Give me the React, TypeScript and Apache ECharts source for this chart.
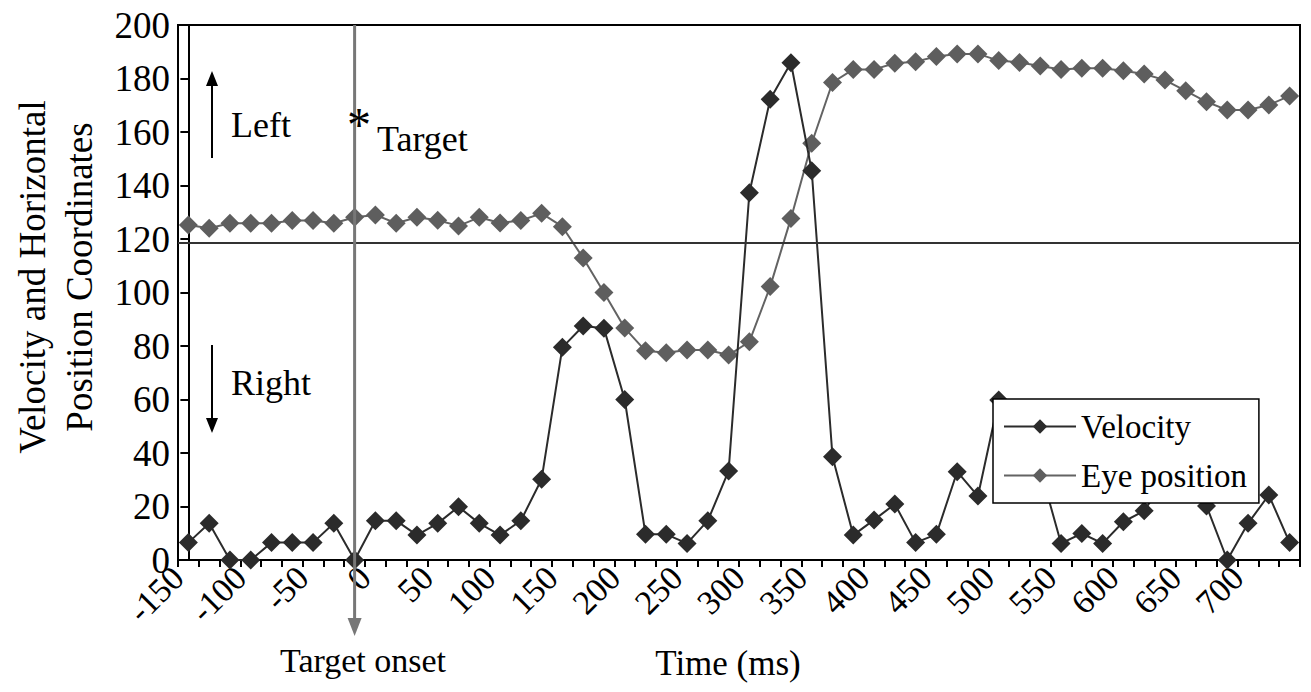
import React, { useEffect, useRef } from "react";
import * as echarts from "echarts";

const timeTickLabels = ["-150", "-100", "-50", "0", "50", "100", "150", "200", "250", "300", "350", "400", "450", "500", "550", "600", "650", "700"];

const sampleIndex = [
  "0", "1", "2", "3", "4", "5", "6", "7", "8", "9",
  "10", "11", "12", "13", "14", "15", "16", "17", "18", "19",
  "20", "21", "22", "23", "24", "25", "26", "27", "28", "29",
  "30", "31", "32", "33", "34", "35", "36", "37", "38", "39",
  "40", "41", "42", "43", "44", "45", "46", "47", "48", "49",
  "50", "51", "52", "53",
];

const velocity = [
  6.5, 13.7, 0, 0, 6.5, 6.5, 6.5, 13.7, 0, 14.7,
  14.7, 9.3, 13.7, 19.9, 13.7, 9.3, 14.7, 30.2, 79.5, 87.5,
  86.6, 60, 9.6, 9.6, 6.2, 14.7, 33.3, 137.3, 172.2, 185.9,
  145.5, 38.6, 9.3, 15, 20.9, 6.5, 9.6, 33, 23.9, 59.8,
  50, 34, 6.2, 9.9, 6.2, 14.3, 18.4, 30, 38, 20.2,
  0, 13.7, 24.3, 6.5,
];

const eyePosition = [
  125.2, 124, 125.9, 125.9, 125.9, 126.9, 126.9, 125.9, 128.1, 129,
  125.9, 128.1, 127, 124.9, 128.1, 126, 126.9, 129.6, 124.6, 112.9,
  100, 86.7, 78.2, 77.5, 78.5, 78.5, 76.6, 81.6, 102.2, 127.7,
  155.8, 178.5, 183.4, 183.4, 185.7, 186.3, 188.2, 189.2, 189.2, 186.7,
  186, 184.7, 183.4, 183.8, 183.8, 182.9, 181.7, 179.4, 175.4, 171.3,
  168.2, 168.2, 170.1, 173.5,
];

const targetOnsetSample = 8;
const referenceLevel = 118.5;

const FONT = '"Liberation Serif", "Times New Roman", serif';

export default function App() {
  const ref = useRef<HTMLDivElement>(null);

  useEffect(() => {
    if (!ref.current) return;
    const chart = echarts.init(ref.current, null, { renderer: "svg" });
    const option: any = {
      animation: false,
      backgroundColor: "#fff",
      textStyle: { fontFamily: FONT, color: "#000" },
      grid: {
        left: 178,
        right: 11,
        top: 25,
        bottom: 132,
        show: true,
        borderColor: "#000",
        borderWidth: 2,
      },
      legend: {
        data: ["Velocity", "Eye position"],
        orient: "vertical",
        left: 993,
        top: 399,
        backgroundColor: "#fff",
        borderColor: "#000",
        borderWidth: 1.5,
        borderRadius: 0,
        padding: [11, 12, 11, 10],
        itemWidth: 72,
        itemHeight: 18,
        itemGap: 16,
        textStyle: { fontFamily: FONT, fontSize: 33, color: "#000" },
      },
      xAxis: [
        {
          type: "category",
          data: sampleIndex,
          boundaryGap: true,
          position: "bottom",
          offset: 0,
          axisLine: { show: true, onZero: false, lineStyle: { color: "#000", width: 2 } },
          axisTick: { show: true, interval: 0, length: 7, lineStyle: { color: "#000", width: 2 } },
          axisLabel: { show: false },
          splitLine: { show: false },
        },
        {
          type: "value",
          min: -0.5,
          max: 53.5,
          interval: 3,
          position: "bottom",
          offset: 0,
          axisLine: { show: false },
          axisTick: { show: false },
          splitLine: { show: false },
          axisLabel: {
            show: true,
            rotate: 45,
            margin: 12,
            fontFamily: FONT,
            fontSize: 34,
            color: "#000",
            showMinLabel: true,
            showMaxLabel: true,
            formatter: (v: number) => {
              const i = Math.round((v + 0.5) / 3);
              return timeTickLabels[i] !== undefined ? timeTickLabels[i] : "";
            },
          },
        },
      ],
      yAxis: {
        type: "value",
        min: 0,
        max: 200,
        interval: 20,
        axisLine: { show: true, lineStyle: { color: "#000", width: 2 } },
        axisTick: { show: true, length: 8, lineStyle: { color: "#000", width: 2 } },
        axisLabel: { fontFamily: FONT, fontSize: 37, color: "#000", margin: 8 },
        splitLine: { show: false },
      },
      series: [
        {
          name: "Velocity",
          type: "line",
          xAxisIndex: 0,
          data: velocity,
          symbol: "diamond",
          symbolSize: 19,
          showAllSymbol: true,
          z: 3,
          lineStyle: { color: "#2b2b2b", width: 2 },
          itemStyle: { color: "#2b2b2b" },
          markLine: {
            silent: true,
            symbol: "none",
            label: { show: false },
            lineStyle: { color: "#333", width: 2, type: "solid" },
            data: [{ yAxis: referenceLevel }],
          },
        },
        {
          name: "Eye position",
          type: "line",
          xAxisIndex: 0,
          data: eyePosition,
          symbol: "diamond",
          symbolSize: 19,
          showAllSymbol: true,
          z: 2,
          lineStyle: { color: "#636363", width: 2 },
          itemStyle: { color: "#5e5e5e" },
        },
      ],
    };
    chart.setOption(option);

    const xOnset = chart.convertToPixel({ xAxisIndex: 0 }, targetOnsetSample) as number;
    const yTop = chart.convertToPixel({ yAxisIndex: 0 }, 200) as number;
    const yZero = chart.convertToPixel({ yAxisIndex: 0 }, 0) as number;

    const txt = (text: string, x: number, y: number, fontSize: number, align = "left") => ({
      type: "text",
      x,
      y,
      z: 100,
      style: {
        text,
        x: 0,
        y: 0,
        fontFamily: FONT,
        fontSize,
        fill: "#000",
        align,
        verticalAlign: "middle",
      },
    });

    chart.setOption({
      graphic: [
        {
          type: "line",
          z: 50,
          shape: { x1: xOnset, y1: yTop, x2: xOnset, y2: yZero + 62 },
          style: { stroke: "#777", lineWidth: 3 },
        },
        {
          type: "polygon",
          z: 50,
          shape: { points: [[xOnset - 7, yZero + 58], [xOnset + 7, yZero + 58], [xOnset, yZero + 76]] },
          style: { fill: "#777" },
        },
        {
          type: "line",
          z: 50,
          shape: { x1: 212, y1: 84, x2: 212, y2: 158 },
          style: { stroke: "#000", lineWidth: 2 },
        },
        {
          type: "polygon",
          z: 50,
          shape: { points: [[206, 86], [218, 86], [212, 71]] },
          style: { fill: "#000" },
        },
        {
          type: "line",
          z: 50,
          shape: { x1: 212, y1: 345, x2: 212, y2: 420 },
          style: { stroke: "#000", lineWidth: 2 },
        },
        {
          type: "polygon",
          z: 50,
          shape: { points: [[206, 418], [218, 418], [212, 433]] },
          style: { fill: "#000" },
        },
        txt("Left", 231, 125, 36),
        txt("Right", 231, 383, 36),
        txt("*", 347, 124, 48),
        txt("Target", 377, 139, 36),
        txt("Target onset", 363, 660, 34, "center"),
        txt("Time (ms)", 728, 663, 35, "center"),
        {
          type: "text",
          x: 56,
          y: 277,
          rotation: Math.PI / 2,
          z: 100,
          style: {
            text: "Velocity and Horizontal\nPosition Coordinates",
            x: 0,
            y: 0,
            fontFamily: FONT,
            fontSize: 37,
            lineHeight: 47,
            fill: "#000",
            align: "center",
            verticalAlign: "middle",
          },
        },
      ],
    });

    return () => {
      chart.dispose();
    };
  }, []);

  return (
    <div
      ref={ref}
      style={{ position: "fixed", left: 0, top: 0, width: 1311, height: 692, background: "#fff" }}
    />
  );
}
